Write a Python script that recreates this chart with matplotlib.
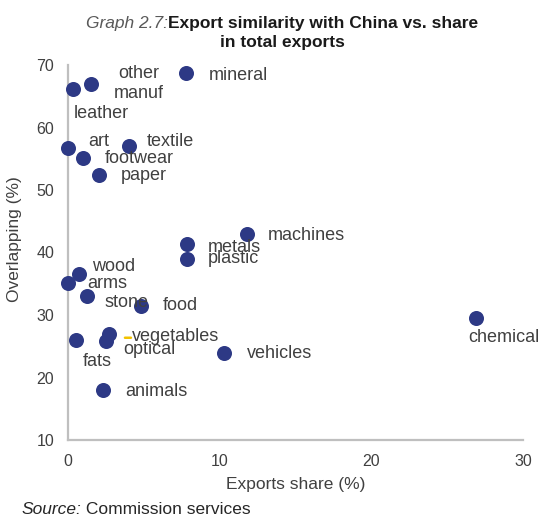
import matplotlib
matplotlib.use("Agg")
import matplotlib.pyplot as plt
from matplotlib.transforms import offset_copy

plt.rcParams["font.family"] = ["Liberation Sans", "DejaVu Sans"]

# sectors: exports share (%) vs overlapping with China (%)
sectors = ["mineral", "other\nmanuf", "leather", "art", "footwear", "textile",
           "paper", "machines", "metals", "plastic", "wood", "arms", "stone",
           "food", "fats", "vegetables", "optical", "vehicles", "animals",
           "chemical"]
export_share = [7.8, 1.5, 0.35, 0.0, 1.0, 4.0,
                2.05, 11.8, 7.85, 7.85, 0.75, 0.0, 1.25,
                4.8, 0.55, 2.7, 2.5, 10.3, 2.3,
                26.9]
overlap = [68.7, 67.0, 66.1, 56.7, 55.2, 57.0,
           52.4, 42.9, 41.3, 39.0, 36.6, 35.2, 33.1,
           31.5, 26.0, 27.0, 25.9, 24.0, 18.0,
           29.6]

# label placement relative to the marker, in pixels (dx right, dy down)
label_offsets = {
    "mineral": (22, 2, "left"), "other\nmanuf": (48, 0, "center"),
    "leather": (0, 24, "left"), "art": (20, -7, "left"),
    "footwear": (22, 1, "left"), "textile": (18, -5, "left"),
    "paper": (22, 1, "left"), "machines": (21, 1, "left"),
    "metals": (21, 3, "left"), "plastic": (21, 0, "left"),
    "wood": (13, -7, "left"), "arms": (19, 1, "left"),
    "stone": (18, 7, "left"), "food": (22, 0, "left"),
    "fats": (6, 22, "left"), "vegetables": (23, 3, "left"),
    "optical": (17, 9, "left"), "vehicles": (23, 1, "left"),
    "animals": (22, 1, "left"), "chemical": (-8, 20, "left"),
}

navy = "#2d3985"
text_col = "#404040"
grid_col = "#bfbfbf"

fig = plt.figure(figsize=(5.4, 5.21), dpi=100)
ax = fig.add_axes([68 / 540, 1 - 440 / 521, 455 / 540, 375 / 521])

ax.scatter(export_share, overlap, s=117, color=navy, zorder=3, clip_on=False,
           linewidths=0)

for name, x, y in zip(sectors, export_share, overlap):
    dx, dy, ha = label_offsets[name]
    ax.annotate(name, (x, y), xytext=(dx, -dy), textcoords="offset pixels",
                ha=ha, va="center", fontsize=13, color=text_col,
                linespacing=1.25, annotation_clip=False)
    if name == "vegetables":
        # short yellow leader stub in front of the label
        stub = offset_copy(ax.transData, fig=fig, x=16, y=-4, units="dots")
        ax.annotate("", xy=(x, y), xycoords=stub, xytext=(6, 0),
                    textcoords="offset pixels", annotation_clip=False,
                    arrowprops=dict(arrowstyle="-", color="#f2c200", lw=1.8,
                                    shrinkA=0, shrinkB=0))

ax.set_xlim(0, 30)
ax.set_ylim(10, 70)
ax.set_xticks([0, 10, 20, 30])
ax.set_yticks(range(10, 71, 10))
ax.tick_params(length=0, labelsize=11.5, labelcolor=text_col)
ax.tick_params(axis="y", pad=10)
ax.tick_params(axis="x", pad=10)
for side in ("top", "right"):
    ax.spines[side].set_visible(False)
for side in ("left", "bottom"):
    ax.spines[side].set_color(grid_col)
    ax.spines[side].set_linewidth(1.6)

ax.set_xlabel("Exports share (%)", fontsize=12.5, color=text_col)
ax.xaxis.set_label_coords(0.5, -0.099)
ax.set_ylabel("Overlapping (%)", fontsize=12.5, color=text_col)
ax.yaxis.set_label_coords(-0.101, 0.535)

# title: italic grey prefix followed by bold text
t1 = fig.text(86 / 540, 1 - 31 / 521, "Graph 2.7:", fontsize=12.5,
              style="italic", color="#595959", ha="left", va="bottom")
ax.annotate("Export similarity with China vs. share", xy=(1, 0),
            xycoords=t1, ha="left", va="bottom", fontsize=12.5,
            fontweight="bold", color="#1a1a1a", annotation_clip=False)
fig.text(282 / 540, 1 - 43 / 521, "in total exports", fontsize=12.5,
         fontweight="bold", color="#1a1a1a", ha="center", va="center")

t2 = fig.text(21 / 540, 1 - 510 / 521, "Source:", fontsize=12.5,
              style="italic", color="#262626", ha="left", va="center")
ax.annotate(" Commission services", xy=(1, 0.5), xycoords=t2, ha="left",
            va="center", fontsize=12.5, color="#262626",
            annotation_clip=False)

fig.savefig("out.png", dpi=100)
